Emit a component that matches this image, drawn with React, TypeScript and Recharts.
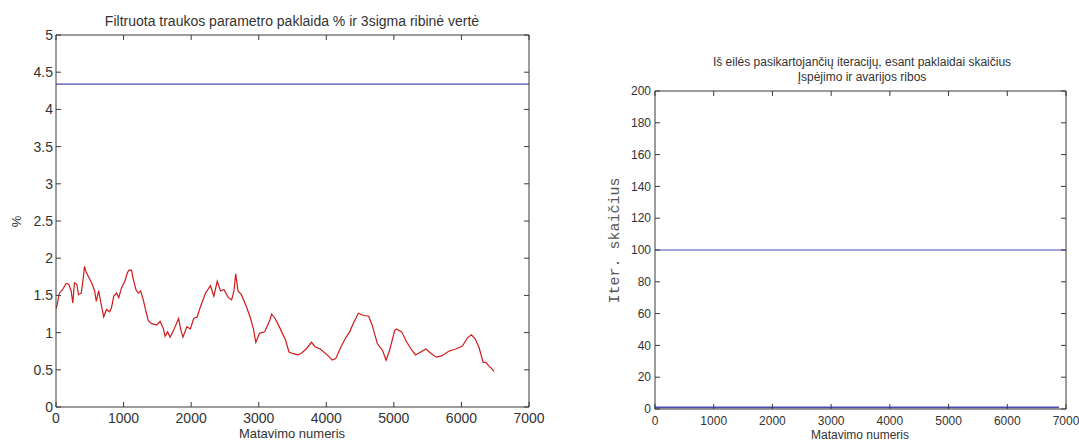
import { Line, LineChart, XAxis, YAxis } from "recharts";

// left panel: filtered error (%) vs measurement number
const measX = [
  0, 15, 50, 99, 149, 189, 224, 249, 273, 308, 333, 373, 398, 422, 447, 487, 537, 572, 596, 631,
  671, 706, 746, 795, 820, 855, 895, 929, 969, 1019, 1059, 1083, 1118, 1143, 1183, 1218, 1252, 1292,
  1332, 1367, 1416, 1491, 1541, 1590, 1615, 1650, 1690, 1740, 1814, 1849, 1879, 1938, 1988, 2038,
  2087, 2147, 2212, 2286, 2336, 2386, 2435, 2485, 2550, 2599, 2634, 2659, 2694, 2743, 2808, 2873,
  2922, 2957, 3012, 3089, 3166, 3191, 3243, 3320, 3397, 3448, 3499, 3576, 3627, 3704, 3781, 3833,
  3910, 4012, 4089, 4140, 4218, 4294, 4346, 4397, 4474, 4551, 4628, 4679, 4756, 4833, 4885, 4936,
  5013, 5038, 5115, 5192, 5269, 5320, 5397, 5474, 5551, 5629, 5714, 5813, 5916, 6015, 6089, 6148,
  6200, 6261, 6321, 6360, 6409, 6445, 6483,
];
const errPct = [
  1.32, 1.37, 1.53, 1.58, 1.66, 1.65, 1.56, 1.4, 1.67, 1.65, 1.51, 1.53, 1.69, 1.89, 1.81, 1.74,
  1.65, 1.56, 1.42, 1.56, 1.37, 1.21, 1.31, 1.28, 1.33, 1.49, 1.53, 1.47, 1.6, 1.69, 1.81, 1.84,
  1.84, 1.72, 1.58, 1.53, 1.56, 1.44, 1.28, 1.16, 1.12, 1.1, 1.15, 1.05, 0.95, 1.01, 0.94, 1.03,
  1.19, 1.03, 0.94, 1.08, 1.05, 1.19, 1.21, 1.37, 1.53, 1.63, 1.49, 1.69, 1.56, 1.58, 1.47, 1.44,
  1.56, 1.79, 1.56, 1.51, 1.37, 1.21, 1.05, 0.87, 0.99, 1.01, 1.17, 1.25, 1.19, 1.05, 0.9, 0.74,
  0.72, 0.7, 0.72, 0.78, 0.87, 0.81, 0.78, 0.7, 0.63, 0.65, 0.81, 0.94, 1.01, 1.12, 1.26, 1.23,
  1.22, 1.1, 0.85, 0.76, 0.63, 0.76, 1.03, 1.05, 1.01, 0.87, 0.76, 0.7, 0.74, 0.78, 0.72, 0.67,
  0.69, 0.75, 0.78, 0.82, 0.93, 0.97, 0.92, 0.8, 0.6, 0.6, 0.55, 0.52, 0.48,
];
const sigmaX = [0, 7000];
const sigmaLimit = [4.34, 4.34];

// right panel: consecutive iteration count and limits
const iterX = [0, 6880];
const iterCount = [1, 1];
const warnX = [0, 7000];
const warnLimit = [100, 100];

const xTicks = [0, 1000, 2000, 3000, 4000, 5000, 6000, 7000];
const pctTicks = [0, 0.5, 1, 1.5, 2, 2.5, 3, 3.5, 4, 4.5, 5];
const iterTicks = [0, 20, 40, 60, 80, 100, 120, 140, 160, 180, 200];

const zip = (xs: number[], ys: number[]) => xs.map((x, i) => ({ x, y: ys[i] }));

const AX = "#3a3a3a";
const TXT = "#333";
const BLUE = "#4a4ab8";
const RED = "#d01a1a";
const blank = () => "";

function Panel({
  left, top, width, height, margin, xH, yW, yTicks, yMax, font, xGap, yGap, children,
}: any) {
  const tick = { fontSize: font, fill: TXT };
  return (
    <div style={{ position: "absolute", left, top }}>
      <LineChart width={width} height={height} margin={margin}>
        <XAxis xAxisId="b" type="number" dataKey="x" domain={[0, 7000]} ticks={xTicks}
          allowDataOverflow height={xH} tickSize={-5} tickMargin={xGap} tick={tick} stroke={AX}
          interval={0} />
        {/* mirrored top / right axes close the box, ticks pointing inward */}
        <XAxis xAxisId="t" orientation="top" type="number" dataKey="x" domain={[0, 7000]}
          ticks={xTicks} allowDataOverflow height={1} tickSize={-5} tickFormatter={blank} stroke={AX}
          interval={0} />
        <YAxis yAxisId="l" type="number" domain={[0, yMax]} ticks={yTicks} allowDataOverflow
          width={yW} tickSize={-5} tickMargin={yGap} tick={tick} stroke={AX} interval={0} />
        <YAxis yAxisId="r" orientation="right" type="number" domain={[0, yMax]} ticks={yTicks}
          allowDataOverflow width={1} tickSize={-5} tickFormatter={blank} stroke={AX} interval={0} />
        <Line xAxisId="t" yAxisId="r" data={zip(xTicks.slice(0, 2), [0, 0])} dataKey="y"
          stroke="none" dot={false} isAnimationActive={false} />
        {children}
      </LineChart>
    </div>
  );
}

export default function App() {
  return (
    <div style={{ position: "absolute", left: 0, top: 0, width: 1079, height: 444, background: "#fff",
      fontFamily: "'Liberation Sans', Arial, sans-serif", color: TXT }}>
      <Panel left={0} top={0} width={560} height={444}
        margin={{ top: 34, right: 30, bottom: 0, left: 0 }} xH={37} yW={56} yTicks={pctTicks}
        yMax={5} font={14} xGap={11} yGap={8}>
        <Line xAxisId="b" yAxisId="l" data={zip(sigmaX, sigmaLimit)} dataKey="y" stroke={BLUE}
          strokeWidth={1.2} dot={false} isAnimationActive={false} />
        <Line xAxisId="b" yAxisId="l" data={zip(measX, errPct)} dataKey="y" stroke={RED}
          strokeWidth={1.2} dot={false} isAnimationActive={false} />
      </Panel>
      <Panel left={560} top={0} width={519} height={444}
        margin={{ top: 90, right: 12, bottom: 0, left: 0 }} xH={35} yW={95} yTicks={iterTicks}
        yMax={200} font={12} xGap={12} yGap={9}>
        <Line xAxisId="b" yAxisId="l" data={zip(warnX, warnLimit)} dataKey="y" stroke={BLUE}
          strokeWidth={1.2} dot={false} isAnimationActive={false} />
        <Line xAxisId="b" yAxisId="l" data={zip(iterX, iterCount)} dataKey="y" stroke={BLUE}
          strokeWidth={1.6} dot={false} isAnimationActive={false} />
      </Panel>

      {/* titles and axis labels */}
      <div style={{ position: "absolute", left: 92, width: 400, top: 13, textAlign: "center",
        fontSize: 14, whiteSpace: "nowrap" }}>
        Filtruota traukos parametro paklaida % ir 3sigma ribinė vertė
      </div>
      <div style={{ position: "absolute", left: 192, width: 200, top: 426, textAlign: "center", fontSize: 13 }}>
        Matavimo numeris
      </div>
      <div style={{ position: "absolute", left: 11, top: 214, fontSize: 13, transform: "rotate(-90deg)" }}>%</div>

      <div style={{ position: "absolute", left: 662, width: 400, top: 55, textAlign: "center",
        fontSize: 12, lineHeight: "15px", whiteSpace: "nowrap" }}>
        Iš eilės pasikartojančių iteracijų, esant paklaidai skaičius
        <br />
        Įspėjimo ir avarijos ribos
      </div>
      <div style={{ position: "absolute", left: 760, width: 200, top: 428, textAlign: "center", fontSize: 12 }}>
        Matavimo numeris
      </div>
      <div style={{ position: "absolute", left: 535, width: 160, top: 232, textAlign: "center",
        fontSize: 15, fontFamily: "'Liberation Mono', monospace", color: "#555", whiteSpace: "nowrap",
        transform: "rotate(-90deg)" }}>
        Iter. skaičius
      </div>
    </div>
  );
}
